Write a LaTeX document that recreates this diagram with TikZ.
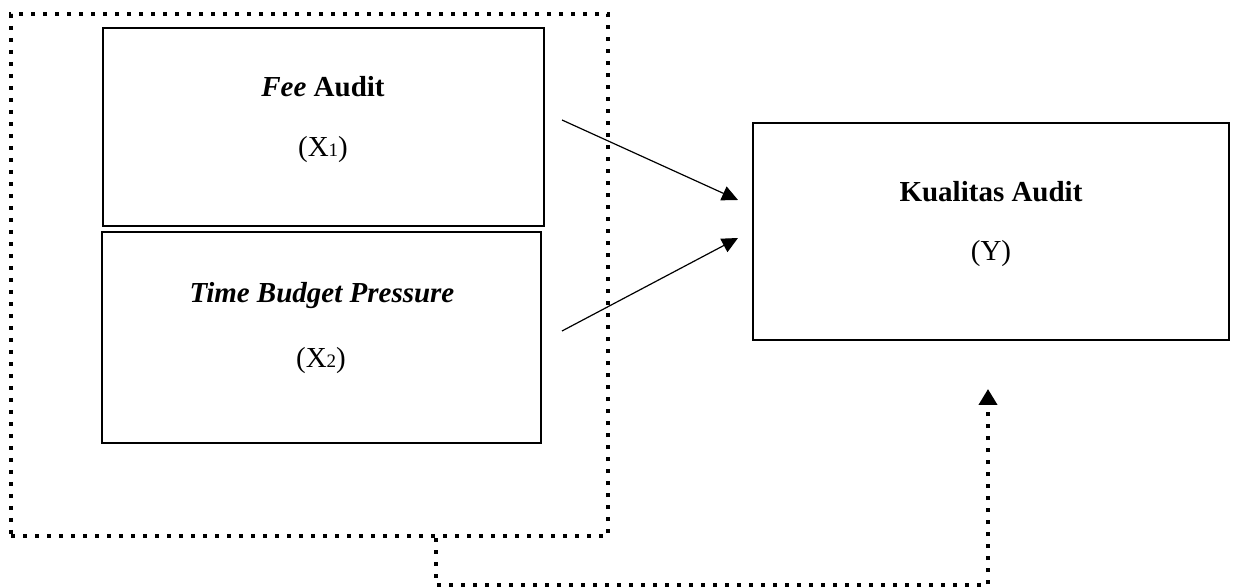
\documentclass[tikz,border=0pt]{standalone}
\usepackage{fontspec}
\setmainfont{Liberation Serif}
\usetikzlibrary{arrows.meta}

\tikzset{
  box/.style={draw, line width=1.1pt, inner sep=0pt, outer sep=0pt},
  dotline/.style={line width=2pt, dash pattern=on 2pt off 4pt},
  lbl/.style={anchor=base, inner sep=0pt, font=\fontsize{14.5}{17}\selectfont},
  arr/.style={line width=0.6pt, -{Triangle[length=8pt,width=7.5pt]}}
}
\newcommand{\sbs}[1]{{\fontsize{9.5}{10}\selectfont #1}}

\begin{document}
\begin{tikzpicture}[x=0.5pt, y=-0.5pt]
    \useasboundingbox (0,0) rectangle (1233,588);

    % the two independent variables
    \node[box, minimum width=220.5pt, minimum height=99pt] (fee) at (323.5,127) {};
    \node[box, minimum width=219.5pt, minimum height=105.5pt] (tbp) at (321.5,337.5) {};
    % dependent variable
    \node[box, minimum width=238pt, minimum height=108.5pt] (kual) at (991,231.5) {};

    % texts
    \node[lbl] (feetxt) at (323,97) {\textbf{\textit{Fee} Audit}};
    \node[lbl] (xone) at (323,157) {(X\sbs{1})};
    \node[lbl] (tbptxt) at (322,303) {\textbf{\textit{Time Budget Pressure}}};
    \node[lbl] (xtwo) at (321,368) {(X\sbs{2})};
    \node[lbl] (kualtxt) at (991,202) {\textbf{Kualitas Audit}};
    \node[lbl] (ytxt) at (991,261) {(Y)};

    % dotted frame round X1 and X2
    \node[dotline, draw, inner sep=0pt, minimum width=298.5pt, minimum height=261pt] (grp) at (309.5,275) {};

    % partial effects
    \coordinate (ps) at (562,120);
    \coordinate (pe) at (738,200);
    \coordinate (qs) at (562,331);
    \coordinate (qe) at (738,238);
    \draw[arr] (ps) -- (pe);
    \draw[arr] (qs) -- (qe);

    % simultaneous effect
    \coordinate (drop) at (grp.south -| 436,0);
    \coordinate (turn) at (988,585);
    \coordinate (ytip) at (988,389);
    \draw[dotline, -{Triangle[length=8pt,width=9pt]}] (drop) |- (turn) -- (ytip);
\end{tikzpicture}
\end{document}
